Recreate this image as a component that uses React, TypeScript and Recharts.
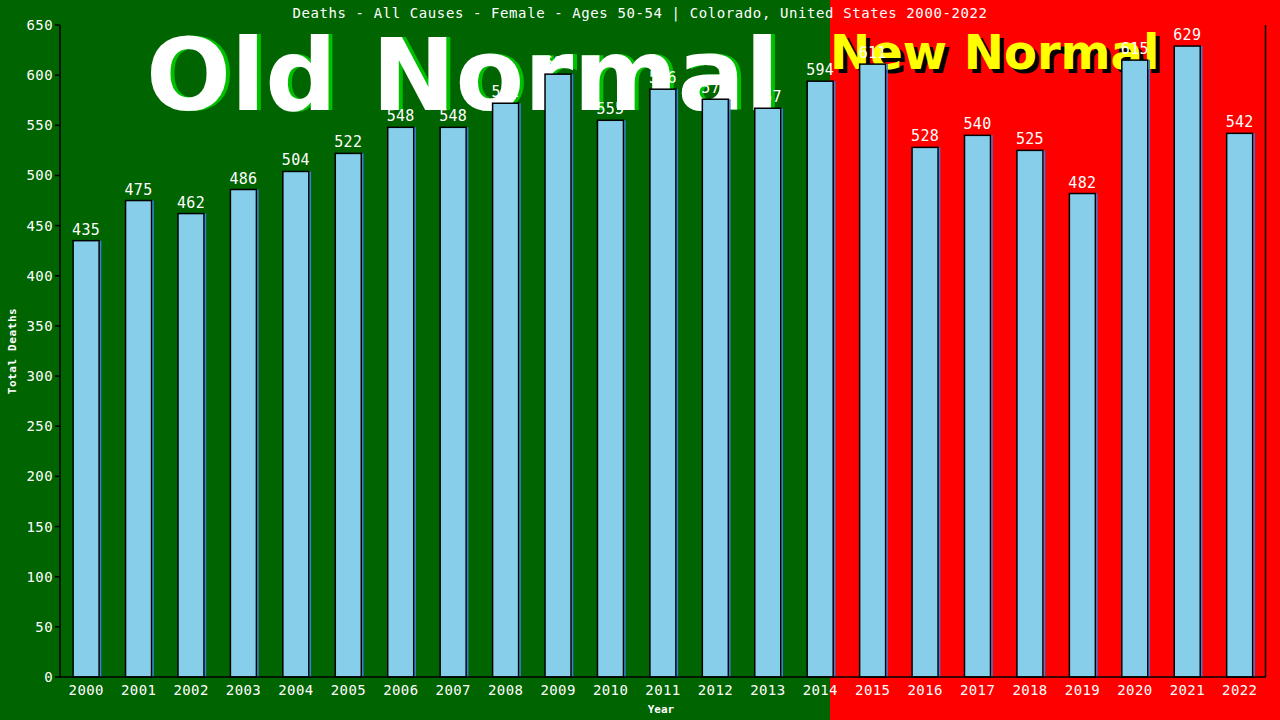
import React from 'react';
import { BarChart, Bar, XAxis, YAxis, LabelList } from 'recharts';

const years = ['2000', '2001', '2002', '2003', '2004', '2005', '2006', '2007', '2008', '2009', '2010', '2011', '2012', '2013', '2014', '2015', '2016', '2017', '2018', '2019', '2020', '2021', '2022'];
const deaths = [435, 475, 462, 486, 504, 522, 548, 548, 572, 601, 555, 586, 576, 567, 594, 611, 528, 540, 525, 482, 615, 629, 542];
const yTicks = [0, 50, 100, 150, 200, 250, 300, 350, 400, 450, 500, 550, 600, 650];

const chartData = years.map((year, i) => ({ year, deaths: deaths[i] }));

const MONO = '"DejaVu Sans Mono", "Liberation Mono", monospace';
const SANS = '"DejaVu Sans", Verdana, sans-serif';

// bar with black outline and a thin blue edge on the right
const BarShape = (props: any) => {
    const { x, y, width, height } = props;
    return (
        <g>
            <rect x={x} y={y} width={width} height={height} fill="#87ceeb" stroke="#000" strokeWidth={1.5} />
            <line x1={x + width + 1.5} y1={y} x2={x + width + 1.5} y2={y + height} stroke="#3b7dd8" strokeWidth={1.5} />
        </g>
    );
};

export default function App() {
    return (
        <div style={{ position: 'absolute', left: 0, top: 0, width: 1280, height: 720, overflow: 'hidden' }}>
            {/* backdrop: halves + big captions, drawn under the chart */}
            <svg width={1280} height={720} style={{ position: 'absolute', left: 0, top: 0 }}>
                <rect x={0} y={0} width={830} height={720} fill="#006400" />
                <rect x={830} y={0} width={450} height={720} fill="#ff0000" />
                <text x={150} y={110} fontFamily={SANS} fontWeight="bold" fontSize={100} fill="#00c000">Old Normal</text>
                <text x={146} y={110} fontFamily={SANS} fontWeight="bold" fontSize={100} fill="#fff">Old Normal</text>
                <text x={834} y={73} fontFamily={SANS} fontWeight="bold" fontSize={48} fill="#000">New Normal</text>
                <text x={830} y={69} fontFamily={SANS} fontWeight="bold" fontSize={48} fill="#ffff00">New Normal</text>
                <text x={640} y={18} textAnchor="middle" fontFamily={MONO} fontSize={14} letterSpacing={0.6} fill="#fff">
                    Deaths - All Causes - Female - Ages 50-54 | Colorado, United States 2000-2022
                </text>
            </svg>
            <div style={{ position: 'absolute', left: 0, top: 0 }}>
                <BarChart
                    width={1280}
                    height={720}
                    data={chartData}
                    margin={{ top: 25, right: 14, left: 0, bottom: 0 }}
                    barCategoryGap="25%"
                >
                    <XAxis
                        dataKey="year"
                        height={43}
                        stroke="#000"
                        strokeWidth={1.5}
                        tickLine={false}
                        tick={{ fill: '#fff', fontSize: 14, fontFamily: MONO, letterSpacing: 0.4 }}
                        interval={0}
                    />
                    <YAxis
                        width={60}
                        domain={[0, 650]}
                        ticks={yTicks}
                        interval={0}
                        stroke="#000"
                        strokeWidth={1.5}
                        tickSize={5}
                        tick={{ fill: '#fff', fontSize: 14, fontFamily: MONO, letterSpacing: 0.4 }}
                    />
                    <Bar dataKey="deaths" shape={<BarShape />} isAnimationActive={false}>
                        <LabelList dataKey="deaths" position="top" offset={6} fill="#fff" fontSize={15} fontFamily={MONO} letterSpacing={0.3} />
                    </Bar>
                </BarChart>
            </div>
            <svg width={1280} height={720} style={{ position: 'absolute', left: 0, top: 0, pointerEvents: 'none' }}>
                <line x1={1265.5} y1={25} x2={1265.5} y2={677} stroke="#000" strokeWidth={1.5} />
                <text x={0} y={0} transform="translate(16,351) rotate(-90)" textAnchor="middle" fontFamily={MONO} fontWeight="bold" fontSize={11} letterSpacing={0.6} fill="#fff">
                    Total Deaths
                </text>
                <text x={661} y={713} textAnchor="middle" fontFamily={MONO} fontWeight="bold" fontSize={11} fill="#fff">
                    Year
                </text>
            </svg>
        </div>
    );
}
